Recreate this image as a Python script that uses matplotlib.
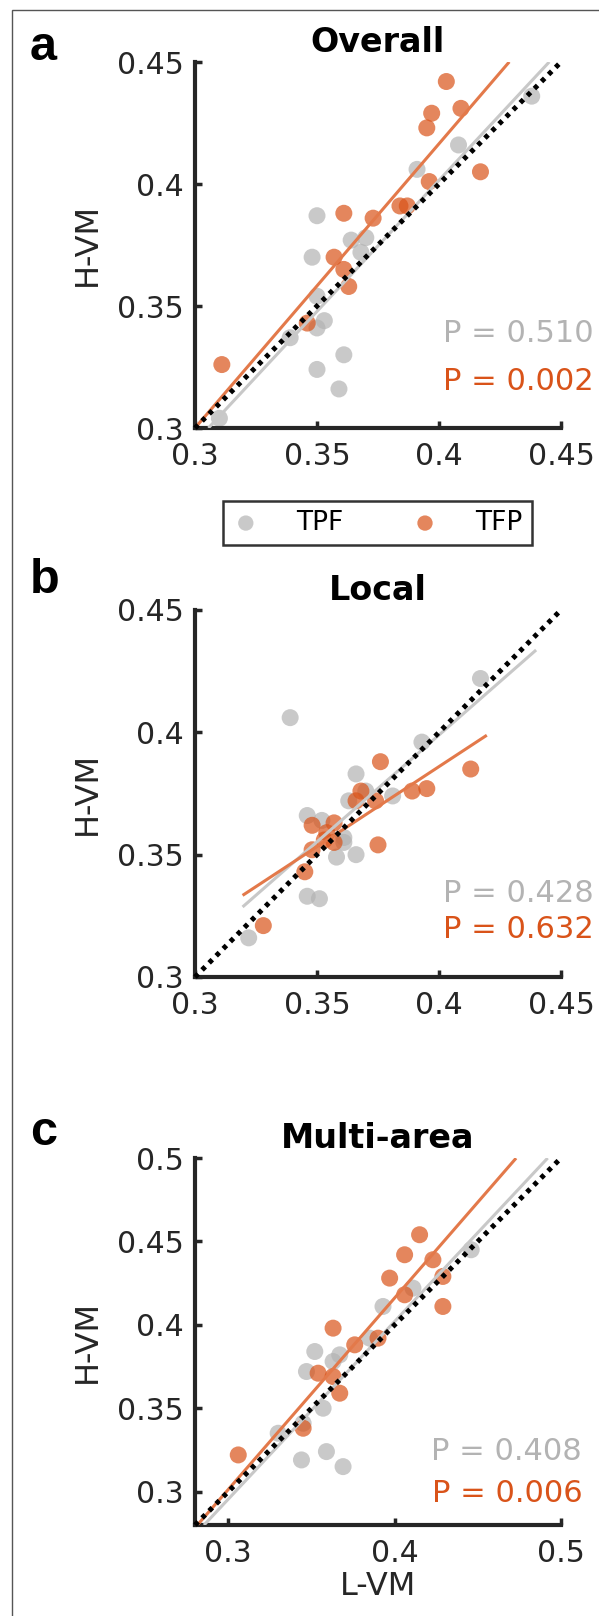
import matplotlib
matplotlib.use('Agg')
import numpy as np
import matplotlib.pyplot as plt
from matplotlib.patches import Rectangle
from matplotlib.ticker import FormatStrFormatter

# ---- data ----
# panel a: Overall
a_tpf_x = [0.310, 0.339, 0.350, 0.348, 0.350, 0.350, 0.353, 0.350, 0.361, 0.359,
           0.364, 0.370, 0.368, 0.391, 0.408, 0.438]
a_tpf_y = [0.304, 0.337, 0.387, 0.370, 0.354, 0.341, 0.344, 0.324, 0.330, 0.316,
           0.377, 0.378, 0.372, 0.406, 0.416, 0.436]
a_tfp_x = [0.311, 0.346, 0.357, 0.361, 0.361, 0.363, 0.373, 0.384, 0.387, 0.396,
           0.395, 0.397, 0.403, 0.409, 0.417]
a_tfp_y = [0.326, 0.343, 0.370, 0.388, 0.365, 0.358, 0.386, 0.391, 0.391, 0.401,
           0.423, 0.429, 0.442, 0.431, 0.405]

# panel b: Local
b_tpf_x = [0.322, 0.339, 0.346, 0.346, 0.351, 0.352, 0.358, 0.361, 0.361, 0.366,
           0.366, 0.363, 0.370, 0.381, 0.393, 0.417]
b_tpf_y = [0.316, 0.406, 0.366, 0.333, 0.332, 0.364, 0.349, 0.357, 0.355, 0.383,
           0.350, 0.372, 0.376, 0.374, 0.396, 0.422]
b_tfp_x = [0.328, 0.345, 0.348, 0.348, 0.354, 0.357, 0.357, 0.353, 0.366, 0.368,
           0.374, 0.376, 0.375, 0.389, 0.395, 0.413]
b_tfp_y = [0.321, 0.343, 0.362, 0.352, 0.359, 0.363, 0.355, 0.356, 0.372, 0.376,
           0.372, 0.388, 0.354, 0.376, 0.377, 0.385]

# panel c: Multi-area
c_tpf_x = [0.330, 0.344, 0.359, 0.369, 0.345, 0.347, 0.352, 0.357, 0.363, 0.367,
           0.385, 0.393, 0.411, 0.446]
c_tpf_y = [0.335, 0.319, 0.324, 0.315, 0.341, 0.372, 0.384, 0.350, 0.378, 0.382,
           0.392, 0.411, 0.422, 0.445]
c_tfp_x = [0.306, 0.345, 0.354, 0.363, 0.363, 0.367, 0.376, 0.390, 0.397, 0.406,
           0.406, 0.415, 0.423, 0.429, 0.429]
c_tfp_y = [0.322, 0.338, 0.371, 0.398, 0.369, 0.359, 0.388, 0.392, 0.428, 0.442,
           0.418, 0.454, 0.439, 0.429, 0.411]

# regression fits: slope, intercept, x range
fits = {
    'a': {'tpf': (1.074, -0.0281, 0.3055, 0.4452), 'tfp': (1.165, -0.0495, 0.300, 0.4288)},
    'b': {'tpf': (0.873, 0.0497, 0.3195, 0.4398), 'tfp': (0.654, 0.1244, 0.3195, 0.4196)},
    'c': {'tpf': (1.065, -0.0240, 0.2854, 0.4920), 'tfp': (1.148, -0.0431, 0.2814, 0.4730)},
}
p_tpf = ['0.510', '0.428', '0.408']
p_tfp = ['0.002', '0.632', '0.006']
titles = ['Overall', 'Local', 'Multi-area']
labels = ['a', 'b', 'c']
lims = [(0.3, 0.45), (0.3, 0.45), (0.28, 0.5)]
xticks = [[0.3, 0.35, 0.4, 0.45], [0.3, 0.35, 0.4, 0.45], [0.3, 0.4, 0.5]]
yticks = [[0.3, 0.35, 0.4, 0.45], [0.3, 0.35, 0.4, 0.45], [0.3, 0.35, 0.4, 0.45, 0.5]]

points = [(a_tpf_x, a_tpf_y, a_tfp_x, a_tfp_y),
          (b_tpf_x, b_tpf_y, b_tfp_x, b_tfp_y),
          (c_tpf_x, c_tpf_y, c_tfp_x, c_tfp_y)]

gray = (0.70, 0.70, 0.70)
orange = (0.85, 0.325, 0.098)
axcol = '#262626'

W, H = 599, 1616
fig = plt.figure(figsize=(W / 100, H / 100), dpi=100)

# outer frame
fig.patches.append(Rectangle((12 / W, -0.1), 1.2, 1.1 - 10 / H,
                             transform=fig.transFigure, fill=False,
                             edgecolor='#555555', lw=1.0, clip_on=False))

# axes boxes in pixels: left, top, right, bottom
boxes = [(195, 62, 561, 428), (195, 610, 561, 977), (195, 1158, 561, 1525)]
ptext_pos = [(1.09, 0.235, 0.104), (1.09, 0.204, 0.106), (1.058, 0.177, 0.063)]
label_y = [60, 593, 1145]

handles = None
for i, key in enumerate(labels):
    l, t, r, b = boxes[i]
    ax = fig.add_axes([l / W, 1 - b / H, (r - l) / W, (b - t) / H])
    tx, ty, fx, fy = points[i]
    h1 = ax.scatter(tx, ty, s=150, color=gray, alpha=0.7, edgecolors='none',
                    label='TPF', zorder=2)
    h2 = ax.scatter(fx, fy, s=150, color=orange, alpha=0.7, edgecolors='none',
                    label='TFP', zorder=2)
    if handles is None:
        handles = [h1, h2]

    for name, col in (('tpf', '#c8c8c8'), ('tfp', '#e3794a')):
        m, c0, x0, x1 = fits[key][name]
        xs = np.array([x0, x1])
        ax.plot(xs, m * xs + c0, color=col, lw=2.2, zorder=3,
                solid_capstyle='butt')

    lo, hi = lims[i]
    ax.plot([lo, hi], [lo, hi], color='black', lw=3.6,
            linestyle=(0, (0.9, 1.1)), zorder=4, clip_on=False)

    ax.set_xlim(lo, hi)
    ax.set_ylim(lo, hi)
    ax.set_xticks(xticks[i])
    ax.set_yticks(yticks[i])
    ax.xaxis.set_major_formatter(FormatStrFormatter('%g'))
    ax.yaxis.set_major_formatter(FormatStrFormatter('%g'))
    for s in ('top', 'right'):
        ax.spines[s].set_visible(False)
    for s in ('left', 'bottom'):
        ax.spines[s].set_linewidth(3.0)
        ax.spines[s].set_color(axcol)
        ax.spines[s].set_capstyle('projecting')
    ax.tick_params(direction='in', length=5, width=2.5, colors=axcol,
                   labelsize=21.5)
    ax.tick_params(axis='x', pad=10)
    ax.tick_params(axis='y', pad=8)
    ax.set_ylabel('H-VM', fontsize=23, color=axcol, labelpad=10)
    ax.set_title(titles[i], fontsize=24, fontweight='bold', pad=7)

    px, gy, oy = ptext_pos[i]
    ax.text(px, gy, 'P = ' + p_tpf[i], transform=ax.transAxes, ha='right',
            va='baseline', fontsize=22, color='#b3b3b3')
    ax.text(px, oy, 'P = ' + p_tfp[i], transform=ax.transAxes, ha='right',
            va='baseline', fontsize=22, color=orange)

    fig.text(30 / W, 1 - label_y[i] / H, key, fontsize=35, fontweight='bold',
             family='Liberation Sans', va='baseline', ha='left')

    if i == 2:
        ax.set_xlabel('L-VM', fontsize=23, color=axcol, labelpad=2)

leg = fig.legend(handles=handles, loc='center', ncol=2,
                 bbox_to_anchor=(377.5 / W, 1 - 523 / H),
                 fontsize=19, frameon=True, fancybox=False, markerscale=0.9,
                 handletextpad=1.4, columnspacing=2.6, handlelength=1.0,
                 borderpad=0.35, borderaxespad=0)
leg.get_frame().set_edgecolor('black')
leg.get_frame().set_linewidth(1.8)

fig.savefig('out.png', dpi=100)
